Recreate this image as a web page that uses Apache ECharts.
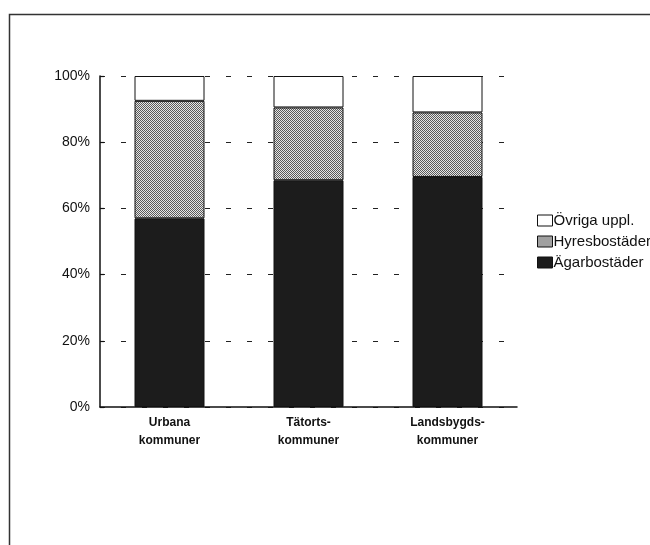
<!DOCTYPE html>
<html><head><meta charset="utf-8">
<script src="https://cdn.jsdelivr.net/npm/echarts@6/dist/echarts.min.js"></script>
<style>html,body{margin:0;padding:0;background:#fff}#c{width:650px;height:545px}</style>
</head><body><div id="c"></div>
<script>
const categories = ['Urbana\nkommuner', 'Tätorts-\nkommuner', 'Landsbygds-\nkommuner'];
const agarbostader = [57, 68.5, 69.5];
const hyresbostader = [35.5, 22, 19.5];
const ovriga = [7.5, 9.5, 11];
const yTicks = [0, 20, 40, 60, 80, 100];

const pc = document.createElement('canvas');
pc.width = 2; pc.height = 2;
const g = pc.getContext('2d');
g.fillStyle = '#e6e6e6'; g.fillRect(0, 0, 2, 2);
g.fillStyle = '#5a5a5a'; g.fillRect(0, 0, 1, 1); g.fillRect(1, 1, 1, 1);
const pattern = { image: pc, repeat: 'repeat' };

const chart = echarts.init(document.getElementById('c'), null, { renderer: 'canvas' });
const font = 'Liberation Sans, Arial, Helvetica, sans-serif';
const base = { type: 'bar', stack: 'total', barWidth: 70 };
chart.setOption({
  backgroundColor: '#fff',
  animation: false,
  textStyle: { fontFamily: font },
  graphic: [{ type: 'rect', left: 7, top: 12, shape: { width: 720, height: 620 }, style: { fill: 'none', stroke: '#333', lineWidth: 1.5 }, silent: true }],
  grid: { left: 100, right: 133, top: 76, bottom: 138 },
  legend: {
    orient: 'vertical', left: 532, top: 208, itemWidth: 15, itemHeight: 11, itemGap: 6, icon: 'rect',
    data: ['Övriga uppl.', 'Hyresbostäder', 'Ägarbostäder'],
    textStyle: { fontSize: 15, color: '#111', fontFamily: font, padding: [0, 0, 0, -4] },
    itemStyle: { borderColor: '#111', borderWidth: 1 }
  },
  xAxis: {
    type: 'category', data: categories,
    axisLine: { lineStyle: { color: '#111', width: 1.5 } },
    axisTick: { show: false },
    axisLabel: { fontSize: 12, fontWeight: 'bold', color: '#111', lineHeight: 18, margin: 7 }
  },
  yAxis: {
    type: 'value', min: 0, max: 100, interval: 20,
    axisLine: { show: true, lineStyle: { color: '#111', width: 1.5 } },
    axisTick: { show: true, inside: true, length: 4, lineStyle: { color: '#111', width: 1.2 } },
    axisLabel: { formatter: v => yTicks.includes(v) ? v + '%' : '', fontSize: 14, color: '#111', margin: 10 },
    splitLine: { lineStyle: { color: '#222', type: [5, 16], width: 1.2 } }
  },
  series: [
    Object.assign({}, base, { name: 'Ägarbostäder', data: agarbostader, itemStyle: { color: '#1c1c1c', borderColor: '#111', borderWidth: 1 } }),
    Object.assign({}, base, { name: 'Hyresbostäder', data: hyresbostader, itemStyle: { color: pattern, borderColor: '#111', borderWidth: 1 } }),
    Object.assign({}, base, { name: 'Övriga uppl.', data: ovriga, itemStyle: { color: '#fff', borderColor: '#111', borderWidth: 1 } })
  ]
});
</script></body></html>
